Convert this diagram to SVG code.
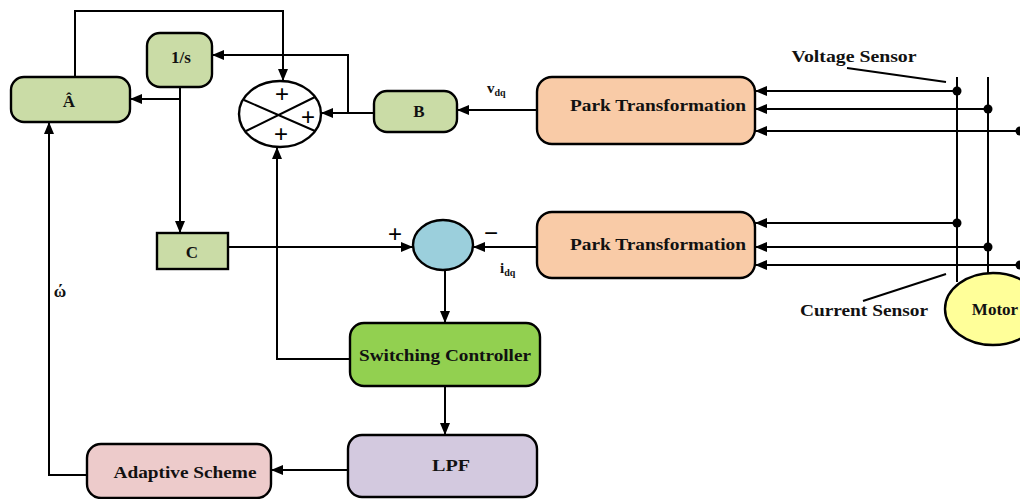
<svg xmlns="http://www.w3.org/2000/svg" width="1020" height="499" viewBox="0 0 1020 499">
  <style>
    .box { stroke: #000; stroke-width: 2.4; }
    .lbl { font-family: "Liberation Serif", "Times New Roman", serif; font-weight: bold; font-size: 17px; fill: #111; text-anchor: middle; dominant-baseline: central; }
    .sym { font-family: "Liberation Sans", Arial, sans-serif; font-size: 24px; fill: #000; text-anchor: middle; dominant-baseline: central; }
    .wire { fill: none; stroke: #000; stroke-width: 2; }
    .arr { marker-end: url(#ah); }
    .green { fill: #CADCA6; }
    .peach { fill: #F9CBA7; }
  </style>
  <defs>
    <marker id="ah" viewBox="0 0 12 10" refX="12" refY="5" markerWidth="12" markerHeight="10" markerUnits="userSpaceOnUse" orient="auto">
      <path d="M0,0 L12,5 L0,10 Z" fill="#000"/>
    </marker>
  </defs>

  <rect width="1020" height="499" fill="#fff"/>

  <!-- connectors -->
  <g id="connectors">
    <path class="wire arr" d="M75,77 V11 H283 V81"/>
    <path class="wire arr" d="M374,113 H321"/>
    <path class="wire arr" d="M348,113 V55 H212"/>
    <path class="wire arr" d="M180,87 V233"/>
    <path class="wire arr" d="M180,99 H130"/>
    <path class="wire arr" d="M228,247 H413"/>
    <path class="wire arr" d="M537,247 H473"/>
    <path class="wire arr" d="M537,110 H457"/>
    <path class="wire arr" d="M445,270 V323"/>
    <path class="wire arr" d="M350,359 H277 V147"/>
    <path class="wire arr" d="M445,386 V435"/>
    <path class="wire arr" d="M348,470 H271"/>
    <path class="wire arr" d="M87,475 H49 V122"/>

    <!-- sensor taps into the Park transformations -->
    <path class="wire arr" d="M957,91 H755"/>
    <path class="wire arr" d="M988,109 H755"/>
    <path class="wire arr" d="M1020,131 H755"/>
    <path class="wire arr" d="M957,223 H755"/>
    <path class="wire arr" d="M988,247 H755"/>
    <path class="wire arr" d="M1020,265 H755"/>

    <!-- motor phase lines -->
    <path class="wire" d="M957,77 V282"/>
    <path class="wire" d="M988,77 V273"/>
    <g fill="#000">
      <circle cx="957" cy="91" r="4.5"/>
      <circle cx="988" cy="109" r="4.5"/>
      <circle cx="1020" cy="131" r="4.5"/>
      <circle cx="957" cy="223" r="4.5"/>
      <circle cx="988" cy="247" r="4.5"/>
      <circle cx="1020" cy="265" r="4.5"/>
    </g>

    <!-- sensor leaders -->
    <path class="wire" stroke-width="1.6" d="M847,68 L946,82"/>
    <path class="wire" stroke-width="1.6" d="M863,301 L946,274"/>
  </g>

  <!-- blocks -->
  <g id="node-ahat">
    <rect class="box green" x="11" y="77" width="119" height="45" rx="13"/>
    <text class="lbl" x="69" y="101">Â</text>
  </g>
  <g id="node-integrator">
    <rect class="box green" x="147" y="33" width="65" height="54" rx="13"/>
    <text class="lbl" x="181" y="57">1/s</text>
  </g>
  <g id="node-summer">
    <ellipse class="box" fill="#fff" cx="280" cy="114" rx="41" ry="33"/>
    <path class="wire" d="M244,100 L315,131 M246,131 L315,97"/>
    <text class="sym" x="282" y="93">+</text>
    <text class="sym" x="308" y="116">+</text>
    <text class="sym" x="281" y="133">+</text>
  </g>
  <g id="node-b">
    <rect class="box green" x="374" y="91" width="83" height="41" rx="13"/>
    <text class="lbl" x="419" y="111">B</text>
  </g>
  <g id="node-c">
    <rect class="box green" x="157" y="233" width="71" height="36"/>
    <text class="lbl" x="192" y="252">C</text>
  </g>
  <g id="node-compare">
    <ellipse class="box" fill="#9BCFDC" cx="443" cy="245" rx="30" ry="25"/>
    <text class="sym" x="395" y="233">+</text>
    <text class="sym" x="491" y="232">−</text>
  </g>
  <g id="node-park-v">
    <rect class="box peach" x="537" y="77" width="218" height="67" rx="15"/>
    <text class="lbl" x="658" y="105" textLength="176" lengthAdjust="spacingAndGlyphs">Park Transformation</text>
  </g>
  <g id="node-park-i">
    <rect class="box peach" x="537" y="212" width="218" height="66" rx="15"/>
    <text class="lbl" x="658" y="244" textLength="176" lengthAdjust="spacingAndGlyphs">Park Transformation</text>
  </g>
  <g id="node-switching">
    <rect class="box" fill="#92D050" x="350" y="323" width="190" height="63" rx="14"/>
    <text class="lbl" x="445" y="355" textLength="172" lengthAdjust="spacingAndGlyphs">Switching Controller</text>
  </g>
  <g id="node-lpf">
    <rect class="box" fill="#D3C9DF" x="348" y="435" width="189" height="62" rx="14"/>
    <text class="lbl" x="451" y="465" textLength="38" lengthAdjust="spacingAndGlyphs">LPF</text>
  </g>
  <g id="node-adaptive">
    <rect class="box" fill="#EDCBCB" x="87" y="444" width="184" height="54" rx="14"/>
    <text class="lbl" x="185" y="472" textLength="143" lengthAdjust="spacingAndGlyphs">Adaptive Scheme</text>
  </g>
  <g id="node-motor">
    <ellipse class="box" fill="#FFFF99" cx="993" cy="309" rx="48" ry="36"/>
    <text class="lbl" x="995" y="309" font-size="18">Motor</text>
  </g>

  <!-- signal and sensor labels -->
  <g id="labels">
    <text class="lbl" x="60" y="291">ώ</text>
    <text class="lbl" x="854" y="56" textLength="125" lengthAdjust="spacingAndGlyphs">Voltage Sensor</text>
    <text class="lbl" x="864" y="310" textLength="128" lengthAdjust="spacingAndGlyphs">Current Sensor</text>
    <text x="487" y="93" font-family="Liberation Serif, serif" font-weight="bold" font-size="15" fill="#111">v<tspan font-size="10" dy="3">dq</tspan></text>
    <text x="500" y="273" font-family="Liberation Serif, serif" font-weight="bold" font-size="15" fill="#111">i<tspan font-size="10" dy="3">dq</tspan></text>
  </g>
</svg>
